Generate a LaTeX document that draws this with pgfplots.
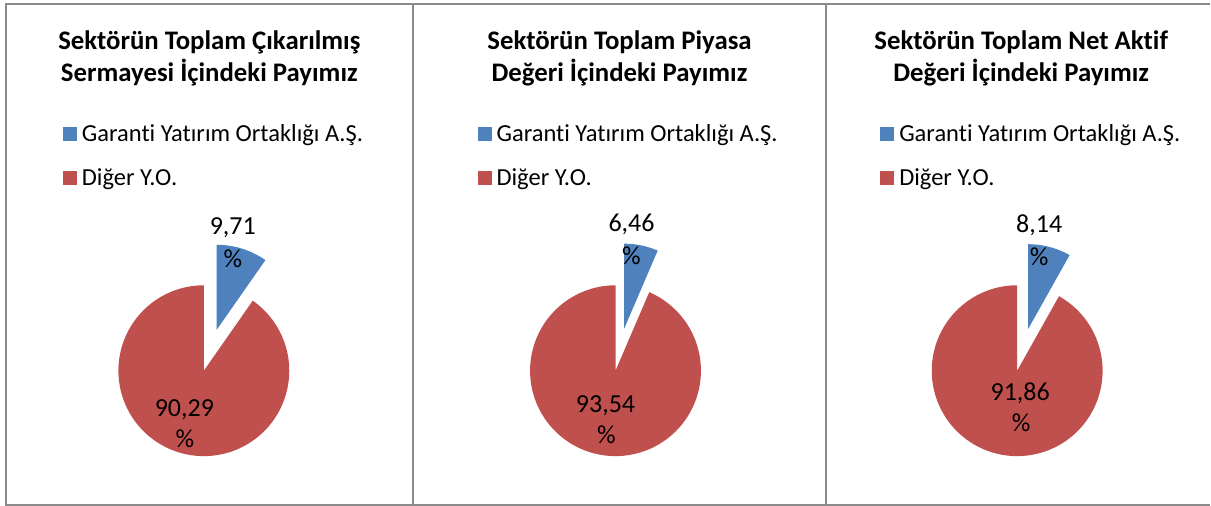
\documentclass[border=0pt]{standalone}
\usepackage{pgfplots}
\pgfplotsset{compat=1.18}
\usepackage{pgfplotstable}
\usepackage{fontspec}
\setmainfont[Ligatures=NoCommon]{Carlito}
\definecolor{pieblue}{HTML}{4F81BD}
\definecolor{piered}{HTML}{C0504D}
\definecolor{framegray}{HTML}{8A8A8A}

\pgfplotstableread{
chart garanti diger
1 9.71 90.29
2 6.46 93.54
3 8.14 91.86
}\piedata

\pgfplotsset{
  piepanel/.style={
    x=1pt, y=1pt, xmin=0, xmax=1211, ymin=0, ymax=506,
    y dir=reverse, hide axis, scale only axis, clip=false,
    at={(0,0)}, anchor=south west,
    legend image code/.code={\fill[##1] (0pt,-7pt) rectangle (14pt,7pt);},
    legend style={draw=none, fill=none, inner sep=0pt, outer sep=0pt,
      anchor=north west, row sep=25pt,
      font=\fontsize{24.5}{29}\selectfont,
      nodes={inner sep=0pt},
      /tikz/every odd column/.style={column sep=5pt}},
    legend cell align=left,
  },
}
\tikzset{
  titlefont/.style={anchor=base, inner sep=0pt, font=\bfseries\fontsize{26.8}{32}\selectfont},
  lblfont/.style={anchor=base, inner sep=0pt, font=\fontsize{26}{30}\selectfont},
}

\begin{document}
\begin{tikzpicture}
\pgfplotstablegetelem{0}{garanti}\of\piedata \pgfmathsetmacro{\gA}{\pgfplotsretval}
\pgfplotstablegetelem{1}{garanti}\of\piedata \pgfmathsetmacro{\gB}{\pgfplotsretval}
\pgfplotstablegetelem{2}{garanti}\of\piedata \pgfmathsetmacro{\gC}{\pgfplotsretval}
\pgfmathsetmacro{\angA}{3.6*\gA}
\pgfmathsetmacro{\angB}{3.6*\gB}
\pgfmathsetmacro{\angC}{3.6*\gC}
\pgfmathsetmacro{\bxA}{204+43*sin(1.8*\gA)}
\pgfmathsetmacro{\byA}{371-43*cos(1.8*\gA)}
\pgfmathsetmacro{\bxB}{616+43*sin(1.8*\gB)}
\pgfmathsetmacro{\byB}{371-43*cos(1.8*\gB)}
\pgfmathsetmacro{\bxC}{1018+43*sin(1.8*\gC)}
\pgfmathsetmacro{\byC}{371-43*cos(1.8*\gC)}

% ---- Panel 1 ----
\begin{axis}[piepanel,
  legend style={at={(axis description cs:0.05202,0.7530)}}]
\path (axis cs:0,0) rectangle (axis cs:1211,506);
\draw[framegray, line width=2pt] (axis cs:1211,4.5) -- (axis cs:6.5,4.5) -- (axis cs:6.5,505) -- (axis cs:1211,505);
\draw[framegray, line width=2.5pt] (axis cs:413.5,4.5) -- (axis cs:413.5,505);
\draw[framegray, line width=2.5pt] (axis cs:826.5,4.5) -- (axis cs:826.5,505);
\addplot[fill=pieblue, draw=none, domain=0:\angA, samples=60]
  ({\bxA + 85*sin(x)}, {\byA - 85*cos(x)}) -- (axis cs:\bxA,\byA) -- cycle;
\addplot[fill=piered, draw=none, domain=\angA:360, samples=160]
  ({204 + 85.5*sin(x)}, {371 - 85.5*cos(x)}) -- (axis cs:204,371) -- cycle;
\legend{Garanti Yatırım Ortaklığı A.Ş., Diğer Y.O.}
\node[titlefont] at (axis cs:209.5,50) {Sektörün Toplam Çıkarılmış};
\node[titlefont] at (axis cs:209.5,82) {Sermayesi İçindeki Payımız};
\node[lblfont] at (axis cs:233,235) {9,71};
\node[lblfont] at (axis cs:233,268) {\%};
\node[lblfont] at (axis cs:184.5,417) {90,29};
\node[lblfont] at (axis cs:185,448) {\%};
\end{axis}

% ---- Panel 2 ----
\begin{axis}[piepanel,
  legend style={at={(axis description cs:0.3947,0.7530)}}]
\addplot[fill=pieblue, draw=none, domain=0:\angB, samples=60]
  ({\bxB + 85*sin(x)}, {\byB - 85*cos(x)}) -- (axis cs:\bxB,\byB) -- cycle;
\addplot[fill=piered, draw=none, domain=\angB:360, samples=160]
  ({616 + 85.5*sin(x)}, {371 - 85.5*cos(x)}) -- (axis cs:616,371) -- cycle;
\legend{Garanti Yatırım Ortaklığı A.Ş., Diğer Y.O.}
\node[titlefont] at (axis cs:620,50) {Sektörün Toplam Piyasa};
\node[titlefont] at (axis cs:620,82) {Değeri İçindeki Payımız};
\node[lblfont] at (axis cs:632,232) {6,46};
\node[lblfont] at (axis cs:632,265) {\%};
\node[lblfont] at (axis cs:606,413) {93,54};
\node[lblfont] at (axis cs:607,444) {\%};
\end{axis}

% ---- Panel 3 ----
\begin{axis}[piepanel,
  legend style={at={(axis description cs:0.7275,0.7530)}}]
\addplot[fill=pieblue, draw=none, domain=0:\angC, samples=60]
  ({\bxC + 85*sin(x)}, {\byC - 85*cos(x)}) -- (axis cs:\bxC,\byC) -- cycle;
\addplot[fill=piered, draw=none, domain=\angC:360, samples=160]
  ({1018 + 85.5*sin(x)}, {371 - 85.5*cos(x)}) -- (axis cs:1018,371) -- cycle;
\legend{Garanti Yatırım Ortaklığı A.Ş., Diğer Y.O.}
\node[titlefont] at (axis cs:1022,50) {Sektörün Toplam Net Aktif};
\node[titlefont] at (axis cs:1022,82) {Değeri İçindeki Payımız};
\node[lblfont] at (axis cs:1040,233) {8,14};
\node[lblfont] at (axis cs:1040,266) {\%};
\node[lblfont] at (axis cs:1021,401) {91,86};
\node[lblfont] at (axis cs:1022,432) {\%};
\end{axis}
\end{tikzpicture}
\end{document}
